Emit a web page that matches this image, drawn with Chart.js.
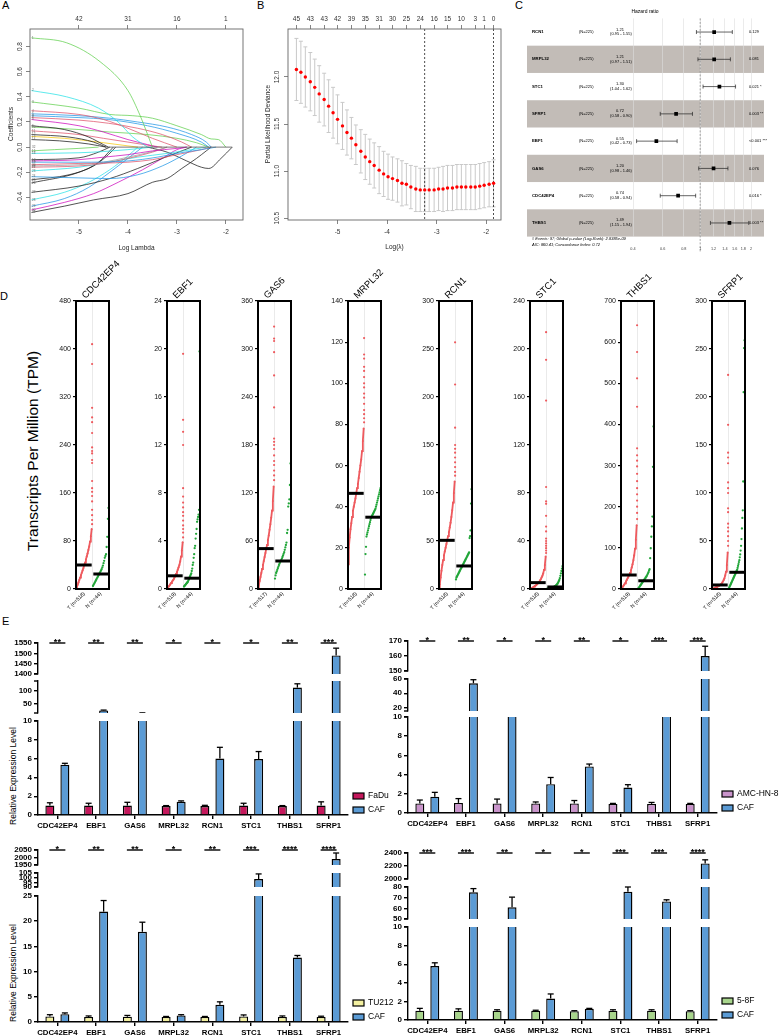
<!DOCTYPE html>
<html>
<head>
<meta charset="utf-8">
<title>Figure</title>
<script src="https://cdn.jsdelivr.net/npm/chart.js@4.4.1/dist/chart.umd.min.js"></script>
<style>
  html, body { margin: 0; background: #fff; }
  body { position: relative; width: 779px; height: 1036px; overflow: hidden; font-family: 'Liberation Sans', Arial, sans-serif; }
  canvas { position: absolute; }
</style>
</head>
<body>
<script>
// ---------- A: lasso coefficient paths ----------
const lassoTicks = [-5, -4, -3, -2];
const lassoTopLabels = ['42', '31', '16', '1'];
const lassoYTicks = [-0.4, -0.2, 0, 0.2, 0.4, 0.6, 0.8];
const lassoColors = 'gcgrbbrmkgrkykgckmbrsrcbkkkcbmkk'.split('');
const lassoPaths = [
  [[-5.97, 0.87], [-5.25, 0.83], [-4.57, 0.68], [-4.0, 0.45], [-3.75, 0.25], [-3.5, 0]],
  [[-5.97, 0.45], [-5.25, 0.40], [-4.6, 0.31], [-4.2, 0.2], [-3.9, 0.08], [-3.6, 0]],
  [[-5.97, 0.36], [-5.0, 0.31], [-4.37, 0.26], [-3.9, 0.25], [-3.5, 0.23], [-3.0, 0.17], [-2.5, 0.10], [-2.3, 0.065], [-2.15, 0.06], [-2.0, 0]],
  [[-5.97, 0.29], [-5.0, 0.26], [-4.5, 0.22], [-4.0, 0.15], [-3.5, 0.07], [-3.0, 0]],
  [[-5.97, 0.265], [-5.0, 0.25], [-4.37, 0.23], [-3.8, 0.2], [-3.2, 0.16], [-2.7, 0.1], [-2.4, 0.04], [-2.3, 0]],
  [[-5.97, 0.25], [-5.0, 0.235], [-4.4, 0.22], [-3.6, 0.17], [-3.0, 0.11], [-2.5, 0.04], [-2.35, 0]],
  [[-5.97, 0.235], [-5.0, 0.215], [-4.4, 0.19], [-3.8, 0.15], [-3.3, 0.1], [-2.9, 0.04], [-2.7, 0]],
  [[-5.97, 0.22], [-5.0, 0.17], [-4.5, 0.12], [-4.0, 0.06], [-3.6, 0.02], [-3.4, 0]],
  [[-5.97, 0.17], [-5.3, 0.14], [-4.8, 0.08], [-4.5, 0.02], [-4.4, 0]],
  [[-5.97, 0.16], [-5.0, 0.14], [-4.37, 0.12], [-3.6, 0.1], [-3.0, 0.07], [-2.6, 0.035], [-2.35, 0]],
  [[-5.97, 0.13], [-5.0, 0.1], [-4.5, 0.07], [-4.0, 0.04], [-3.5, 0.01], [-3.3, 0]],
  [[-5.97, 0.10], [-5.2, 0.08], [-4.7, 0.04], [-4.45, 0]],
  [[-5.97, 0.085], [-5.3, 0.07], [-4.6, 0.04], [-4.0, 0.01], [-3.8, 0]],
  [[-5.97, 0.06], [-5.4, 0.05], [-4.8, 0.025], [-4.45, 0]],
  [[-5.97, -0.03], [-5.5, -0.02], [-5.0, -0.01], [-4.6, 0]],
  [[-5.97, -0.05], [-5.0, -0.045], [-4.5, -0.035], [-4.0, -0.02], [-3.5, 0]],
  [[-5.97, -0.10], [-5.0, -0.085], [-4.6, -0.04], [-4.37, 0]],
  [[-5.97, -0.11], [-5.0, -0.10], [-4.5, -0.08], [-4.0, -0.06], [-3.5, -0.03], [-3.0, -0.01], [-2.8, 0]],
  [[-5.97, -0.12], [-5.0, -0.12], [-4.0, -0.11], [-3.4, -0.08], [-3.0, -0.05], [-2.5, -0.02], [-2.2, 0]],
  [[-5.97, -0.14], [-5.0, -0.13], [-4.0, -0.12], [-3.5, -0.1], [-3.0, -0.06], [-2.5, -0.02], [-2.3, 0]],
  [[-5.97, -0.15], [-5.0, -0.14], [-4.5, -0.12], [-4.0, -0.08], [-3.5, -0.035], [-3.2, 0]],
  [[-5.97, -0.16], [-5.0, -0.15], [-4.5, -0.13], [-4.0, -0.09], [-3.5, -0.04], [-3.2, 0]],
  [[-5.97, -0.19], [-5.0, -0.16], [-4.4, -0.12], [-3.8, -0.08], [-3.2, -0.05], [-2.7, -0.02], [-2.4, 0]],
  [[-5.97, -0.235], [-5.0, -0.245], [-4.37, -0.25], [-3.8, -0.22], [-3.3, -0.15], [-2.9, -0.07], [-2.6, 0]],
  [[-5.97, -0.26], [-5.2, -0.22], [-4.7, -0.15], [-4.4, -0.06], [-4.25, 0]],
  [[-5.97, -0.285], [-5.0, -0.2], [-4.6, -0.12], [-4.37, -0.03], [-4.3, 0]],
  [[-5.97, -0.36], [-5.0, -0.31], [-4.37, -0.25], [-3.8, -0.17], [-3.3, -0.09], [-3.0, -0.045], [-2.7, 0]],
  [[-5.97, -0.42], [-5.3, -0.36], [-4.8, -0.28], [-4.37, -0.18], [-4.0, -0.07], [-3.8, 0]],
  [[-5.97, -0.47], [-5.3, -0.41], [-4.8, -0.32], [-4.37, -0.2], [-4.0, -0.09], [-3.7, 0]],
  [[-5.97, -0.50], [-5.3, -0.44], [-4.7, -0.37], [-4.2, -0.28], [-3.7, -0.18], [-3.3, -0.09], [-3.0, -0.02], [-2.8, 0]],
  [[-5.97, -0.52], [-5.3, -0.47], [-4.7, -0.42], [-4.0, -0.37], [-3.5, -0.28], [-3.2, -0.25], [-2.9, -0.17], [-2.6, -0.09], [-2.4, -0.03], [-2.3, 0]],
  [[-3.6, 0], [-3.2, -0.04], [-2.8, -0.11], [-2.5, -0.16], [-2.35, -0.17], [-2.1, -0.09], [-1.87, 0]]
];

// ---------- B: cross-validation curve ----------
const cvLogLambda = [-5.83, -5.74, -5.65, -5.55, -5.46, -5.37, -5.27, -5.18, -5.09, -5.00, -4.90, -4.81, -4.72, -4.63, -4.53,
  -4.44, -4.35, -4.26, -4.16, -4.07, -3.98, -3.89, -3.79, -3.70, -3.61, -3.52, -3.42, -3.33, -3.24, -3.15,
  -3.05, -2.96, -2.87, -2.78, -2.68, -2.59, -2.50, -2.41, -2.31, -2.22, -2.13, -2.04, -1.94, -1.85];
const cvDeviance = [12.08, 12.05, 12.00, 11.95, 11.89, 11.82, 11.76, 11.69, 11.62, 11.55, 11.48, 11.41, 11.35, 11.28, 11.21,
  11.15, 11.10, 11.06, 11.01, 10.97, 10.94, 10.92, 10.90, 10.87, 10.86, 10.83, 10.81, 10.80, 10.80, 10.80,
  10.80, 10.81, 10.81, 10.82, 10.82, 10.83, 10.83, 10.83, 10.83, 10.83, 10.84, 10.85, 10.86, 10.87];
const cvSE = [0.33, 0.33, 0.32, 0.31, 0.30, 0.30, 0.28, 0.28, 0.27, 0.26, 0.25, 0.24, 0.22, 0.21, 0.23,
  0.24, 0.24, 0.24, 0.25, 0.24, 0.24, 0.23, 0.23, 0.24, 0.22, 0.23, 0.24, 0.23, 0.23, 0.23,
  0.23, 0.23, 0.24, 0.24, 0.24, 0.24, 0.24, 0.24, 0.24, 0.24, 0.24, 0.24, 0.24, 0.25];
const cvTopIdx = [0, 3, 6, 9, 12, 15, 18, 21, 24, 27, 30, 33, 36, 39, 41, 43];
const cvNonzero = ['45', '43', '43', '42', '39', '35', '31', '30', '25', '24', '16', '15', '10', '3', '1', '0'];
const cvYTicks = [10.5, 11.0, 11.5, 12.0];
const cvDashed = [-3.24, -1.85];

// ---------- C: multivariate Cox forest ----------
const coxGenes = ['RCN1', 'MRPL32', 'STC1', 'SFRP1', 'EBF1', 'GAS6', 'CDC42EP4', 'THBS1'];
const coxHR = [1.21, 1.21, 1.30, 0.72, 0.55, 1.20, 0.74, 1.49];
const coxLow = [0.95, 0.97, 1.04, 0.58, 0.42, 0.98, 0.58, 1.15];
const coxHigh = [1.55, 1.51, 1.62, 0.90, 0.73, 1.46, 0.94, 1.94];
const coxP = ['0.129', '0.081', '0.021 *', '0.003 **', '<0.001 ***', '0.076', '0.016 *', '0.003 **'];
const coxTicks = [0.4, 0.6, 0.8, 1, 1.2, 1.4, 1.6, 1.8, 2];

// ---------- D: TPM dot plots ----------
const dGenes = ['CDC42EP4', 'EBF1', 'GAS6', 'MRPL32', 'RCN1', 'STC1', 'THBS1', 'SFRP1'];
const dTumorN = [518, 519, 517, 518, 518, 518, 519, 518];
const dNormalN = [44, 44, 44, 44, 44, 44, 44, 44];
const dMax = [480, 24, 360, 140, 300, 240, 700, 300];
const dStep = [80, 4, 60, 20, 50, 40, 100, 50];
const dTumorMedian = [40, 1.1, 50.5, 46.5, 50.7, 5.3, 34, 4.2];
const dNormalMedian = [25, 0.9, 35, 34.9, 24, 1.7, 20, 17.4];
const dQuant = [0, 0.05, 0.1, 0.15, 0.2, 0.25, 0.3, 0.35, 0.4, 0.45, 0.5, 0.55, 0.6, 0.65, 0.7, 0.75, 0.8, 0.85, 0.9, 0.95];
const dTumorCurve = [
  [0, 3, 7, 11, 15, 19, 23, 27, 31, 35, 40, 44, 49, 54, 59, 65, 71, 79, 88, 100],
  [0, 0.1, 0.2, 0.3, 0.4, 0.5, 0.6, 0.7, 0.8, 0.95, 1.1, 1.25, 1.4, 1.6, 1.8, 2.0, 2.3, 2.7, 3.2, 3.9],
  [0, 5, 10, 15, 20, 25, 30, 35, 40, 45, 50.5, 55, 61, 67, 74, 81, 89, 98, 110, 128],
  [12, 20, 25, 29, 32, 35, 38, 40, 42, 44, 46.5, 49, 51, 54, 57, 60, 63, 67, 72, 78],
  [0, 5, 12, 19, 25, 30, 35, 39, 43, 47, 51, 55, 59, 64, 69, 75, 82, 90, 100, 112],
  [0, 0.3, 0.6, 1, 1.5, 2, 2.5, 3, 3.6, 4.3, 5.2, 6, 7, 8, 9.5, 11, 13, 16, 20, 27],
  [0, 2, 5, 8, 11, 14, 18, 22, 26, 30, 34, 39, 45, 52, 60, 70, 82, 98, 120, 155],
  [0, 0.3, 0.6, 1, 1.4, 1.8, 2.2, 2.7, 3.2, 3.7, 4.2, 5, 6, 7.5, 9, 11, 14, 18, 25, 38]
];
const dTumorHigh = [
  [108, 115, 123, 132, 146, 155, 162, 168, 180, 210, 215, 226, 230, 236, 260, 278, 286, 302, 375, 408],
  [4.3, 4.7, 5.0, 5.3, 5.7, 6.1, 6.4, 6.8, 7.2, 7.7, 8.4, 12.0, 13.1, 14.1, 19.6],
  [136, 142, 148, 155, 160, 167, 175, 180, 184, 188, 227, 267, 296, 310, 313, 328],
  [81, 83, 85, 87, 90, 93, 95, 98, 100, 103, 106, 108, 112, 114, 122],
  [118, 122, 127, 132, 137, 142, 146, 150, 168, 213, 257],
  [30, 32, 34, 36, 38, 40, 42, 48, 52, 61, 71, 73, 85, 157, 191, 214],
  [170, 185, 200, 215, 230, 245, 262, 280, 298, 312, 325, 342, 443, 512, 576, 641],
  [45, 50, 55, 60, 64, 68, 80, 84, 100, 105, 111, 131, 137, 142, 171, 223]
];
const dNormal = [
  [5, 7, 9, 11, 13, 15, 17, 19, 21, 23, 25, 27, 29, 31, 33, 36, 39, 43, 47, 52, 55, 58, 70, 87, 117, 135],
  [0.2, 0.25, 0.3, 0.35, 0.4, 0.45, 0.5, 0.55, 0.6, 0.7, 0.8, 0.9, 1.0, 1.1, 1.2, 1.3, 1.5, 1.7, 2.0, 2.2, 2.6, 2.9, 3.4, 3.6, 4.2, 4.6, 5.0, 5.6, 5.8, 6.0, 6.2, 6.6, 19.8],
  [13, 17, 20, 22, 24, 26, 28, 30, 32, 34, 35, 36, 38, 40, 42, 44, 46, 49, 52, 55, 58, 70, 74, 103, 107, 112, 130, 157],
  [7, 17, 20.5, 25.5, 26.5, 27.5, 28.5, 29.5, 30.5, 31.5, 32.5, 33.5, 34.5, 35, 35.5, 36, 36.5, 37, 37.5, 38, 38.5, 39, 40, 41, 42, 43, 44, 45, 46, 47, 48, 49],
  [10, 12, 13, 14, 15, 16, 17, 18, 19, 20, 21, 22, 23, 24, 25, 26, 27, 28, 29, 30, 31, 32, 33, 34, 35, 36, 37, 38, 53, 55, 61, 89, 104],
  [0.1, 0.2, 0.3, 0.4, 0.5, 0.6, 0.7, 0.8, 0.9, 1.0, 1.2, 1.4, 1.6, 1.8, 2.0, 2.3, 2.6, 3.0, 3.4, 4.0, 4.6, 5.5, 6.5, 7.5, 9, 11, 13, 15, 17, 19],
  [0.5, 2, 4, 6, 8, 10, 12, 14, 16, 18, 20, 22, 24, 26, 28, 30, 32, 35, 38, 41, 45, 48, 75, 99, 127, 152, 176, 297, 395],
  [1, 2, 3, 4, 5, 6, 7, 8, 9, 10, 11, 12, 13, 14, 15, 16, 17, 18, 19, 20, 22, 24, 26, 28, 30, 33, 36, 40, 45, 52, 63, 74, 82, 112, 205, 251, 259]
];

// ---------- E: qPCR, cell line vs CAF ----------
const eGenes = ['CDC42EP4', 'EBF1', 'GAS6', 'MRPL32', 'RCN1', 'STC1', 'THBS1', 'SFRP1'];

const faduExpr = [1.0, 1.0, 1.0, 0.95, 0.95, 1.0, 0.95, 1.0];
const faduSD = [0.3, 0.25, 0.35, 0.05, 0.08, 0.25, 0.05, 0.4];
const cafVsFadu = [5.35, 22, 11, 1.4, 6.0, 5.95, 112, 1490];
const cafVsFaduSD = [0.15, 1.5, 1.5, 0.1, 1.2, 0.8, 15, 35];
const faduSig = ['**', '**', '**', '*', '*', '*', '**', '***'];
const faduRanges = [[1400, 1550], [12, 138], [0, 10]];
const faduTicks = [[1400, 1450, 1500, 1550], [50, 100], [0, 2, 4, 6, 8, 10]];

const amcExpr = [1.0, 1.05, 1.0, 1.0, 1.0, 0.95, 0.95, 0.95];
const amcSD = [0.35, 0.45, 0.45, 0.15, 0.3, 0.05, 0.15, 0.05];
const cafVsAmc = [1.7, 54, 12, 3.0, 4.85, 2.65, 12, 160];
const cafVsAmcSD = [0.45, 5, 0, 0.7, 0.25, 0.3, 0, 6.5];
const amcSig = ['*', '**', '*', '*', '**', '*', '***', '***'];
const amcRanges = [[150, 170], [15, 60], [0, 10]];
const amcTicks = [[150, 160, 170], [20, 40, 60], [0, 2, 4, 6, 8, 10]];

const tu212Expr = [1.1, 1.0, 1.05, 1.0, 1.0, 1.1, 1.0, 1.0];
const tu212SD = [0.35, 0.2, 0.25, 0.1, 0.1, 0.3, 0.2, 0.15];
const cafVsTu212 = [1.55, 21.9, 17.9, 1.3, 3.4, 98.5, 12.8, 1990];
const cafVsTu212SD = [0.25, 2.2, 1.9, 0.15, 0.6, 5.5, 0.4, 40];
const tu212Sig = ['*', '**', '**', '*', '**', '***', '****', '****'];
const tu212Ranges = [[1950, 2050], [90, 105], [0, 25]];
const tu212Ticks = [[1950, 2000, 2050], [90, 95, 100, 105], [0, 5, 10, 15, 20, 25]];

const f58Expr = [1.0, 1.0, 1.0, 1.0, 0.95, 1.0, 1.0, 0.95];
const f58SD = [0.25, 0.2, 0.1, 0.05, 0.05, 0.1, 0.1, 0.05];
const cafVsF58 = [5.8, 75, 61, 2.3, 1.2, 75.5, 66.5, 2240];
const cafVsF58SD = [0.35, 3.5, 9.5, 0.5, 0.05, 4.5, 1.5, 55];
const f58Sig = ['***', '***', '**', '*', '*', '***', '***', '****'];
const f58Ranges = [[2000, 2400], [50, 80], [0, 10]];
const f58Ticks = [[2000, 2200, 2400], [50, 60, 70, 80], [0, 2, 4, 6, 8, 10]];

// ---------- helpers ----------
const FONT = "'Liberation Sans', Arial, Helvetica, sans-serif";
Chart.defaults.font.family = FONT;
Chart.defaults.color = '#000';
const RPAL = { k: '#1a1a1a', r: '#DF536B', g: '#61D04F', b: '#2297E6', c: '#28E2E5', m: '#CD0BBC', y: '#F5C710', s: '#9E9E9E' };
const RED = '#ee5a5e', GREEN = '#22a63a', CAF_BLUE = '#5b9bd5';

function div(text, x, y, size, o) {
  o = o || {};
  const d = document.createElement('div');
  d.textContent = text;
  let tf = o.center ? 'translate(-50%,-50%)' : '';
  if (o.rot) tf += ' rotate(' + o.rot + 'deg)';
  d.style.cssText = 'position:absolute;white-space:nowrap;line-height:1;left:' + x + 'px;top:' + y + 'px;font-size:' + size +
    'px;font-weight:' + (o.weight || 'normal') + ';transform:' + tf + ';color:#000';
  document.body.appendChild(d);
}

function txt(c, s, x, y, o) {
  o = o || {};
  c.save();
  c.translate(x, y);
  if (o.rot) c.rotate(o.rot * Math.PI / 180);
  c.font = (o.style || '') + ' ' + (o.weight || 'normal') + ' ' + (o.size || 7) + 'px ' + FONT;
  c.fillStyle = o.color || '#000';
  c.textAlign = o.align || 'center';
  c.textBaseline = o.base || 'middle';
  c.fillText(s, 0, 0);
  c.restore();
}

function seg(c, x1, y1, x2, y2, color, lw, dash) {
  c.save();
  c.beginPath();
  c.strokeStyle = color || '#000';
  c.lineWidth = lw || 1;
  if (dash) c.setLineDash(dash);
  c.moveTo(x1, y1);
  c.lineTo(x2, y2);
  c.stroke();
  c.restore();
}

function frame(c, S, color, lw) {
  c.save();
  c.strokeStyle = color;
  c.lineWidth = lw;
  c.strokeRect(S.l, S.t, S.r - S.l, S.b - S.t);
  c.restore();
}

// place a chart so that its plot area lands on box = [left, top, right, bottom] (page pixels)
function chartAt(x, y, w, h, box, cfg, hooks) {
  hooks = hooks || {};
  const cv = document.createElement('canvas');
  cv.width = w; cv.height = h;
  cv.style.left = x + 'px'; cv.style.top = y + 'px';
  cv.style.width = w + 'px'; cv.style.height = h + 'px';
  document.body.appendChild(cv);
  const space = { left: box[0] - x, top: box[1] - y, right: x + w - box[2], bottom: y + h - box[3] };
  const pad = Object.assign({}, space);
  Object.values(cfg.options.scales).forEach(s => {
    if (s.display === false) return;
    const size = space[s.position];
    pad[s.position] = 0;
    s.afterFit = sc => {
      if (sc.isHorizontal()) sc.height = size; else sc.width = size;
      sc.paddingLeft = sc.paddingRight = sc.paddingTop = sc.paddingBottom = 0;
    };
  });
  cfg.options.layout = { padding: pad };
  cfg.options.responsive = false;
  cfg.options.animation = false;
  cfg.options.devicePixelRatio = 1;
  cfg.options.events = [];
  cfg.options.plugins = { legend: { display: false }, tooltip: { enabled: false }, title: { display: false } };
  const wrap = fn => chart => {
    if (!fn) return;
    const c = chart.ctx, a = chart.chartArea;
    const S = {
      ox: x, oy: y,
      x: (v, id) => chart.scales[id || 'x'].getPixelForValue(v) + x,
      y: (v, id) => chart.scales[id || 'y'].getPixelForValue(v) + y,
      l: a.left + x, r: a.right + x, t: a.top + y, b: a.bottom + y
    };
    c.save(); c.translate(-x, -y); fn(c, S, chart); c.restore();
  };
  cfg.plugins = [{ id: 'deco', beforeDraw: wrap(hooks.under), beforeDatasetsDraw: wrap(hooks.before),
    afterDatasetsDraw: wrap(hooks.after), afterDraw: wrap(hooks.top) }];
  return new Chart(cv, cfg);
}

const setTicks = vals => s => { s.ticks = vals.map(v => ({ value: v })); };
const rAxisGrid = { drawOnChartArea: false, tickLength: 4, color: '#666', lineWidth: 0.8 };

// ---------- panel letters and big titles ----------
div('A', 2, 0, 11);
div('B', 257, 0, 11);
div('C', 515, 0, 11);
div('D', 0, 291, 11);
div('E', 2, 616, 11);
div('Transcripts Per Million (TPM)', 33, 451, 15.5, { center: true, rot: -90 });
div('Relative Expression Level', 13, 776, 8.5, { center: true, rot: -90 });
div('Relative Expression Level', 13, 973, 8.5, { center: true, rot: -90 });

// ---------- A ----------
chartAt(0, 0, 258, 262, [30, 29, 243, 220], {
  type: 'line',
  data: {
    datasets: [{ data: [{ x: -4.45, y: 0 }, { x: -1.87, y: 0 }], borderColor: '#555', borderWidth: 0.8, pointRadius: 0 }]
      .concat(lassoPaths.map((p, i) => ({
        data: p.map(q => ({ x: q[0], y: q[1] })),
        borderColor: RPAL[lassoColors[i]], borderWidth: 0.75, pointRadius: 0,
        cubicInterpolationMode: 'monotone', fill: false
      })))
  },
  options: {
    scales: {
      x: { type: 'linear', position: 'bottom', min: -6.0, max: -1.65, afterBuildTicks: setTicks(lassoTicks),
        ticks: { font: { size: 6.5 }, color: '#333', padding: 4, callback: v => String(v) },
        grid: rAxisGrid, border: { display: false },
        title: { display: true, text: 'Log Lambda', font: { size: 6.5 }, color: '#222', padding: { top: 0, bottom: 10 } } },
      xt: { type: 'linear', position: 'top', min: -6.0, max: -1.65, afterBuildTicks: setTicks(lassoTicks),
        ticks: { font: { size: 6.5 }, color: '#333', padding: 2, callback: (v, i) => lassoTopLabels[i] },
        grid: rAxisGrid, border: { display: false } },
      y: { type: 'linear', position: 'left', min: -0.58, max: 0.94, afterBuildTicks: setTicks(lassoYTicks),
        ticks: { display: false }, grid: rAxisGrid, border: { display: false } }
    }
  }
}, {
  top: (c, S) => {
    frame(c, S, '#666', 0.9);
    lassoYTicks.forEach(v => txt(c, v.toFixed(1), 20, S.y(v), { size: 6.5, rot: -90, color: '#333' }));
    txt(c, 'Coefficients', 11, 124, { size: 6.5, rot: -90, color: '#222' });
    lassoPaths.forEach((p, i) => txt(c, String(i + 1), S.l + 2, S.y(p[0][1]), { size: 3, align: 'left', color: '#666' }));
  }
});

// ---------- B ----------
chartAt(258, 0, 257, 262, [288, 29, 501, 220], {
  type: 'scatter',
  data: {
    datasets: [{ data: cvLogLambda.map((v, i) => ({ x: v, y: cvDeviance[i] })),
      pointRadius: 1.7, pointBackgroundColor: '#ff0000', pointBorderWidth: 0 }]
  },
  options: {
    scales: {
      x: { type: 'linear', position: 'bottom', min: -6.0, max: -1.7, afterBuildTicks: setTicks(lassoTicks),
        ticks: { font: { size: 6.5 }, color: '#333', padding: 4, callback: v => String(v) },
        grid: rAxisGrid, border: { display: false },
        title: { display: true, text: 'Log(\u03bb)', font: { size: 6.5 }, color: '#222', padding: { top: 0, bottom: 11 } } },
      xt: { type: 'linear', position: 'top', min: -6.0, max: -1.7, afterBuildTicks: setTicks(cvTopIdx.map(i => cvLogLambda[i])),
        ticks: { font: { size: 6.5 }, color: '#333', padding: 2, autoSkip: false, maxRotation: 0, callback: (v, i) => cvNonzero[i] },
        grid: rAxisGrid, border: { display: false } },
      y: { type: 'linear', position: 'left', min: 10.48, max: 12.51, afterBuildTicks: setTicks(cvYTicks),
        ticks: { display: false }, grid: rAxisGrid, border: { display: false } }
    }
  }
}, {
  before: (c, S) => {
    cvLogLambda.forEach((v, i) => {
      const px = S.x(v), y1 = S.y(cvDeviance[i] - cvSE[i]), y2 = S.y(cvDeviance[i] + cvSE[i]);
      seg(c, px, y1, px, y2, '#c9c9c9', 1);
      seg(c, px - 2, y1, px + 2, y1, '#c9c9c9', 1);
      seg(c, px - 2, y2, px + 2, y2, '#c9c9c9', 1);
    });
    cvDashed.forEach(v => seg(c, S.x(v), S.t, S.x(v), S.b, '#222', 0.8, [2, 2]));
  },
  top: (c, S) => {
    frame(c, S, '#666', 0.9);
    cvYTicks.forEach(v => txt(c, v.toFixed(1), 277, S.y(v), { size: 6.5, rot: -90, color: '#333' }));
    txt(c, 'Partial Likelihood Deviance', 268, 124, { size: 6.5, rot: -90, color: '#222' });
  }
});

// ---------- C ----------
chartAt(515, 0, 264, 262, [527, 18.4, 764, 236.6], {
  type: 'scatter',
  data: {
    datasets: [{ data: coxHR.map((v, i) => ({ x: v, y: i })), pointStyle: 'rect', pointRadius: 2.6,
      pointBackgroundColor: '#000', pointBorderWidth: 0 }]
      .concat(coxLow.map((lo, i) => ({ type: 'line', data: [{ x: lo, y: i }, { x: coxHigh[i], y: i }],
        borderColor: '#222', borderWidth: 0.7, pointRadius: 0 })))
  },
  options: {
    scales: {
      x: { type: 'logarithmic', position: 'bottom', min: 0.0942, max: 2.388, afterBuildTicks: setTicks(coxTicks),
        ticks: { display: false }, grid: { color: '#dedede', lineWidth: 0.6, drawTicks: false }, border: { display: false } },
      y: { type: 'linear', position: 'left', min: -0.5, max: 7.5, reverse: true, display: false }
    }
  }
}, {
  under: (c, S) => {
    c.save();
    c.fillStyle = '#c2bcb7';
    coxGenes.forEach((g, i) => { if (i % 2 === 1) c.fillRect(S.l, S.y(i - 0.5), S.r - S.l, S.y(i + 0.5) - S.y(i - 0.5)); });
    c.restore();
  },
  top: (c, S) => {
    seg(c, S.x(1), S.t, S.x(1), 252, '#8a8a8a', 0.8, [2, 1.5]);
    txt(c, 'Hazard ratio', 645, 12, { size: 5 });
    coxGenes.forEach((g, i) => {
      const yc = S.y(i);
      txt(c, g, 532, yc, { size: 4.3, weight: 'bold', align: 'left' });
      txt(c, '(N=225)', 579, yc, { size: 4, align: 'left' });
      txt(c, coxHR[i].toFixed(2), 620, yc - 2.6, { size: 4 });
      txt(c, '(' + coxLow[i].toFixed(2) + ' - ' + coxHigh[i].toFixed(2) + ')', 621, yc + 2.2, { size: 4 });
      txt(c, coxP[i], 749, yc, { size: 4, align: 'left' });
      [coxLow[i], coxHigh[i]].forEach(v => seg(c, S.x(v), yc - 2, S.x(v), yc + 2, '#222', 0.7));
    });
    coxTicks.forEach(v => txt(c, String(v), S.x(v), 249, { size: 3.8, color: '#444' }));
    txt(c, '# Events: 97; Global p-value (Log-Rank): 2.8385e-09', 532, 238.5, { size: 4, align: 'left', style: 'italic' });
    txt(c, 'AIC: 860.41; Concordance Index: 0.72', 532, 245, { size: 4, align: 'left', style: 'italic' });
  }
});

// ---------- D ----------
dGenes.forEach((g, i) => {
  const L = Math.round(76 + i * 90.8);
  const tCurve = dQuant.map((q, k) => ({ x: q, y: dTumorCurve[i][k] }));
  const tHigh = dTumorHigh[i].map(v => ({ x: 0.975, y: v }));
  const nPts = dNormal[i].map((v, k, a) => ({ x: 1.03 + 0.94 * k / (a.length - 1), y: v }));
  chartAt(L - 45, 255, 130, 362, [L, 301, L + 33, 589], {
    type: 'scatter',
    data: {
      datasets: [
        { type: 'line', data: [{ x: 0.05, y: dTumorMedian[i] }, { x: 0.95, y: dTumorMedian[i] }], borderColor: '#000', borderWidth: 3, pointRadius: 0 },
        { type: 'line', data: [{ x: 1.05, y: dNormalMedian[i] }, { x: 1.95, y: dNormalMedian[i] }], borderColor: '#000', borderWidth: 3, pointRadius: 0 },
        { type: 'line', data: tCurve, borderColor: RED, borderWidth: 1.8, pointRadius: 1, pointBackgroundColor: RED, pointBorderWidth: 0 },
        { data: tHigh, pointRadius: 1.1, pointBackgroundColor: RED, pointBorderWidth: 0 },
        { data: nPts, pointRadius: 1.15, pointBackgroundColor: GREEN, pointBorderWidth: 0 }
      ]
    },
    options: {
      scales: {
        x: { type: 'linear', position: 'bottom', min: 0, max: 2, display: false },
        y: { type: 'linear', position: 'left', min: 0, max: dMax[i],
          ticks: { stepSize: dStep[i], font: { size: 7 }, color: '#111', padding: 2 },
          grid: { drawOnChartArea: false, tickLength: 3, color: '#000', lineWidth: 1.2 }, border: { display: false } }
      }
    }
  }, {
    before: (c, S) => seg(c, S.x(1), S.t, S.x(1), S.b, '#e4e4e4', 0.8),
    top: (c, S) => {
      frame(c, S, '#000', 2);
      txt(c, g, S.l + 9.5, S.t - 2, { rot: -45, align: 'left', base: 'alphabetic', size: 9.5 });
      txt(c, 'T (n=' + dTumorN[i] + ')', S.x(0.5), S.b + 4, { rot: -45, align: 'right', size: 5.2 });
      txt(c, 'N (n=' + dNormalN[i] + ')', S.x(1.5), S.b + 4, { rot: -45, align: 'right', size: 5.2 });
    }
  });
});

// ---------- E ----------
function expressionPanel(p) {
  p.segs.forEach((sg, k) => {
    const isTop = k === 0, isBottom = k === p.segs.length - 1;
    const cy = sg[0] - (isTop ? 22 : 4);
    const hh = sg[1] + (isBottom ? 22 : 4) - cy;
    const barDs = (label, data, color) => ({ label: label, data: data, backgroundColor: color, borderColor: '#000',
      borderWidth: 1.4, clip: 0, categoryPercentage: 0.775, barPercentage: 0.6 });
    chartAt(p.cx, cy, p.cw, hh, [p.L, sg[0], p.R, sg[1]], {
      type: 'bar',
      data: { labels: eGenes, datasets: [barDs(p.name, p.cell, p.color), barDs('CAF', p.caf, CAF_BLUE)] },
      options: {
        scales: {
          x: { type: 'category', position: 'bottom', display: isBottom,
            ticks: { font: { size: 7.8, weight: 'bold' }, color: '#000', padding: 2, maxRotation: 0, autoSkip: false },
            grid: { drawOnChartArea: false, offset: false, tickLength: 4, lineWidth: 1.4, color: '#000' },
            border: { display: true, width: 1.4, color: '#000' } },
          y: { type: 'linear', position: 'left', min: p.ranges[k][0], max: p.ranges[k][1], afterBuildTicks: setTicks(p.ticks[k]),
            ticks: { font: { size: 8, weight: 'bold' }, color: '#000', padding: 2, autoSkip: false, callback: v => String(v) },
            grid: { drawOnChartArea: false, tickLength: 4, lineWidth: 1.4, color: '#000' },
            border: { display: true, width: 1.4, color: '#000' } }
        }
      }
    }, {
      after: (c, S, chart) => {
        c.save();
        c.beginPath(); c.rect(S.l, S.t - 1, S.r - S.l, S.b - S.t + 1); c.clip();
        [[p.cell, p.cellSD], [p.caf, p.cafSD]].forEach((pair, d) => {
          const meta = chart.getDatasetMeta(d);
          pair[0].forEach((v, i) => {
            if (!pair[1][i]) return;
            const bx = meta.data[i].x + S.ox, y1 = S.y(v), y2 = S.y(v + pair[1][i]);
            seg(c, bx, y1, bx, y2, '#000', 1.3);
            seg(c, bx - 3, y2, bx + 3, y2, '#000', 1.3);
          });
        });
        c.restore();
        seg(c, S.l - 4, S.t, S.l, S.t, '#000', 1.4);
        if (!isBottom) seg(c, S.l - 4, S.b, S.l, S.b, '#000', 1.4);
        if (isTop) {
          p.sig.forEach((s, i) => {
            const cx = S.x(i);
            seg(c, cx - 8, S.t, cx + 8, S.t, '#000', 1.4);
            txt(c, s, cx, S.t + 2, { size: 9, weight: 'bold', base: 'alphabetic' });
          });
        }
        if (isBottom) {
          [[p.name, p.color], ['CAF', CAF_BLUE]].forEach((it, j) => {
            const ly = S.b - 19 + j * 14;
            c.save();
            c.fillStyle = it[1]; c.fillRect(S.r + 5, ly - 3, 11, 6);
            c.strokeStyle = '#000'; c.lineWidth = 1.2; c.strokeRect(S.r + 5, ly - 3, 11, 6);
            c.restore();
            txt(c, it[0], S.r + 20, ly, { size: 8.5, align: 'left' });
          });
        }
      }
    });
  });
}

const leftCol = { cx: 0, cw: 400, L: 38, R: 348 };
const rightCol = { cx: 378, cw: 401, L: 408, R: 717 };
expressionPanel(Object.assign({}, leftCol, { name: 'FaDu', color: '#c4185c', cell: faduExpr, cellSD: faduSD,
  caf: cafVsFadu, cafSD: cafVsFaduSD, sig: faduSig, ranges: faduRanges, ticks: faduTicks,
  segs: [[643, 674], [681, 713], [721, 815]] }));
expressionPanel(Object.assign({}, rightCol, { name: 'AMC-HN-8', color: '#c994cb', cell: amcExpr, cellSD: amcSD,
  caf: cafVsAmc, cafSD: cafVsAmcSD, sig: amcSig, ranges: amcRanges, ticks: amcTicks,
  segs: [[641, 671], [679, 711], [717, 813]] }));
expressionPanel(Object.assign({}, leftCol, { name: 'TU212', color: '#f3f0a0', cell: tu212Expr, cellSD: tu212SD,
  caf: cafVsTu212, cafSD: cafVsTu212SD, sig: tu212Sig, ranges: tu212Ranges, ticks: tu212Ticks,
  segs: [[850, 865], [873, 887], [896, 1022]] }));
expressionPanel(Object.assign({}, rightCol, { name: '5-8F', color: '#a8d58c', cell: f58Expr, cellSD: f58SD,
  caf: cafVsF58, cafSD: cafVsF58SD, sig: f58Sig, ranges: f58Ranges, ticks: f58Ticks,
  segs: [[853, 879], [887, 919], [927, 1020]] }));
</script>
</body>
</html>
